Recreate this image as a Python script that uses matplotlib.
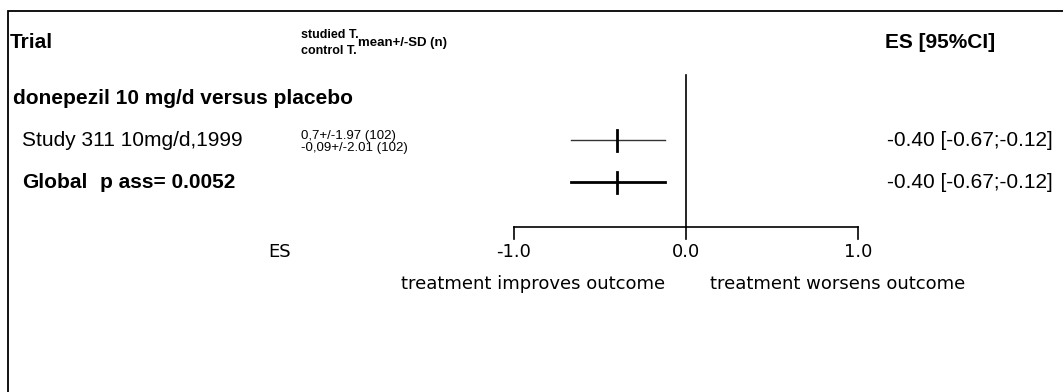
import matplotlib
matplotlib.use('Agg')
import matplotlib.pyplot as plt
from matplotlib.patches import Rectangle
import matplotlib.transforms as mtransforms

# données
group_label = "donepezil 10 mg/d versus placebo"
trials = ["Study 311 10mg/d,1999"]
studied_stats = ["0,7+/-1.97 (102)"]
control_stats = ["-0,09+/-2.01 (102)"]
es = [-0.40]
ci_low = [-0.67]
ci_high = [-0.12]
global_es = -0.40
global_low = -0.67
global_high = -0.12
p_ass = "0.0052"
ticks = [-1.0, 0.0, 1.0]

W, H, DPI = 1063, 392, 100
fig = plt.figure(figsize=(W / DPI, H / DPI), dpi=DPI)
ax = fig.add_axes([0, 0, 1, 1])
ax.axis('off')

# 0 -> 686 px, 172 px par unité
x0, sc = 686.0, 172.0
ax.set_xlim(-x0 / sc, (W - x0) / sc)
# ligne 1 à 98 px, 42 px par ligne
y0, rs = 98.0, 42.0
ax.set_ylim(1 + (H - y0) / rs, 1 - y0 / rs)

def px(x):
    return x / W

trans = mtransforms.blended_transform_factory(fig.transFigure, ax.transData)

reg = 'Liberation Sans'
axfont = 'DejaVu Sans'
fs = 15
fs_small = 9.5

# cadre
fig.add_artist(Rectangle((8 / W, -0.1), 1.2, (H - 11) / H + 0.1,
                         transform=fig.transFigure, fill=False, lw=1.3, ec='black'))

# en-têtes
row_head = 1 - (98 - 43) / rs
ax.text(px(10), row_head, "Trial", transform=trans, fontfamily=reg,
        fontweight='bold', fontsize=fs, va='center', ha='left')
ax.text(px(301), row_head - 0.2, "studied T.", transform=trans, fontfamily=reg,
        fontweight='bold', fontsize=9, va='center', ha='left')
ax.text(px(301), row_head + 0.2, "control T.", transform=trans, fontfamily=reg,
        fontweight='bold', fontsize=9, va='center', ha='left')
ax.text(px(358), row_head, "mean+/-SD (n)", transform=trans, fontfamily=reg,
        fontweight='bold', fontsize=9.5, va='center', ha='left')
ax.text(px(885), row_head, "ES [95%CI]", transform=trans, fontfamily=reg,
        fontweight='bold', fontsize=fs, va='center', ha='left')

# groupe
ax.text(px(13), 1, group_label, transform=trans, fontfamily=reg,
        fontweight='bold', fontsize=fs, va='center', ha='left')

# études
for i, name in enumerate(trials):
    r = 2 + i
    ax.text(px(22), r, name, transform=trans, fontfamily=reg,
            fontsize=fs, va='center', ha='left')
    ax.text(px(301), r - 0.1, studied_stats[i], transform=trans, fontfamily=reg,
            fontsize=fs_small, va='center', ha='left')
    ax.text(px(301), r + 0.2, control_stats[i], transform=trans, fontfamily=reg,
            fontsize=fs_small, va='center', ha='left')
    ax.plot([ci_low[i], ci_high[i]], [r, r], color='#333333', lw=1.0)
    ax.plot([es[i], es[i]], [r - 0.25, r + 0.25], color='black', lw=2)
    ax.text(px(1053), r, f"{es[i]:.2f} [{ci_low[i]:.2f};{ci_high[i]:.2f}]",
            transform=trans, fontfamily=reg, fontsize=fs, va='center', ha='right')

# global
rg = 2 + len(trials)
ax.text(px(22), rg, "Global", transform=trans, fontfamily=reg,
        fontweight='bold', fontsize=fs, va='center', ha='left')
ax.text(px(100), rg, f"p ass= {p_ass}", transform=trans, fontfamily=reg,
        fontweight='bold', fontsize=fs, va='center', ha='left')
ax.plot([global_low, global_high], [rg, rg], color='black', lw=2)
ax.plot([global_es, global_es], [rg - 0.25, rg + 0.25], color='black', lw=2)
ax.text(px(1053), rg, f"{global_es:.2f} [{global_low:.2f};{global_high:.2f}]",
        transform=trans, fontfamily=reg, fontsize=fs, va='center', ha='right')

# axe
ry_axis = 1 + (227 - y0) / rs
ax.plot([0, 0], [1 - (y0 - 75) / rs, ry_axis], color='black', lw=1.2)
ax.plot([ticks[0], ticks[-1]], [ry_axis, ry_axis], color='black', lw=1.2)
for t in ticks:
    ax.plot([t, t], [ry_axis, ry_axis + 0.28], color='black', lw=1.2)
    ax.text(t, ry_axis + 0.6, f"{t:.1f}", fontfamily=axfont, fontsize=13,
            va='center', ha='center')
ax.text(px(280), ry_axis + 0.6, "ES", transform=trans, fontfamily=axfont,
        fontsize=13, va='center', ha='center')
ax.text(-0.12, ry_axis + 1.35, "treatment improves outcome", fontfamily=axfont,
        fontsize=13, va='center', ha='right')
ax.text(0.14, ry_axis + 1.35, "treatment worsens outcome", fontfamily=axfont,
        fontsize=13, va='center', ha='left')

fig.savefig('out.png', dpi=DPI)
